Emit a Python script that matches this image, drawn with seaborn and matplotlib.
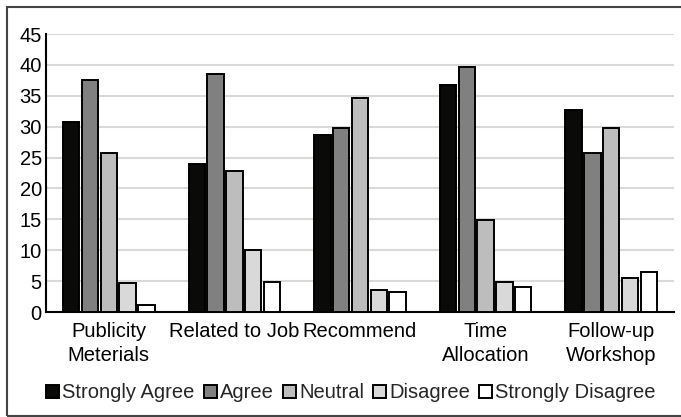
import pandas as pd
import matplotlib.pyplot as plt
import seaborn as sns
from matplotlib.patches import Rectangle

# Survey items and response shares
items = ['Publicity\nMeterials', 'Related to Job', 'Recommend', 'Time\nAllocation', 'Follow-up\nWorkshop']
responses = ['Strongly Agree', 'Agree', 'Neutral', 'Disagree', 'Strongly Disagree']
strongly_agree = [30.7, 23.9, 28.7, 36.7, 32.7]
agree = [37.6, 38.6, 29.8, 39.6, 25.7]
neutral = [25.7, 22.8, 34.7, 14.9, 29.8]
disagree = [4.7, 10.0, 3.6, 4.8, 5.5]
strongly_disagree = [1.2, 4.9, 3.2, 4.0, 6.4]
colors = ['#0a0a08', '#808080', '#bdbdbd', '#d9d9d9', '#ffffff']

series = [strongly_agree, agree, neutral, disagree, strongly_disagree]
rows = []
for resp, vals in zip(responses, series):
    for item, v in zip(items, vals):
        rows.append({'item': item, 'response': resp, 'value': v})
df = pd.DataFrame(rows)

sns.set_style('white')
plt.rcParams['font.family'] = ['Liberation Sans', 'DejaVu Sans']

fs = 14.5
fig = plt.figure(figsize=(6.81, 4.17), dpi=100)
ax = fig.add_axes([46 / 681, 1 - 312 / 417, 628 / 681, 278 / 417])

sns.barplot(data=df, x='item', y='value', hue='response', order=items, hue_order=responses,
            palette=colors, edgecolor='black', linewidth=1.4, width=0.75, gap=0.13,
            saturation=1, ax=ax, zorder=3)

ax.set_ylim(0, 45)
ax.set_yticks(range(0, 46, 5))
ax.set_xlim(-0.5, 4.5)
ax.yaxis.grid(True, color='#d9d9d9', linewidth=1.5, zorder=0)
ax.set_axisbelow(True)
ax.set_xlabel('')
ax.set_ylabel('')
ax.tick_params(axis='both', length=0, labelsize=fs, colors='black')
ax.tick_params(axis='y', pad=3)
ax.tick_params(axis='x', pad=7)
for lbl in ax.get_xticklabels():
    lbl.set_linespacing(1.35)

for side in ['top', 'right']:
    ax.spines[side].set_visible(False)
for side in ['left', 'bottom']:
    ax.spines[side].set_color('black')
    ax.spines[side].set_linewidth(1.5)

ax.legend(ncol=5, loc='center', bbox_to_anchor=(351 / 681, 1 - 393 / 417),
          bbox_transform=fig.transFigure, frameon=False, fontsize=fs,
          handlelength=0.65, handleheight=0.65, handletextpad=0.15, columnspacing=0.45)

# frame around the whole figure
fig.patches.append(Rectangle((6.5 / 681, 1.5 / 417), 1.0, 408.5 / 417, transform=fig.transFigure,
                             fill=False, edgecolor='#444444', linewidth=1.5))

plt.savefig('out.png', dpi=100)
